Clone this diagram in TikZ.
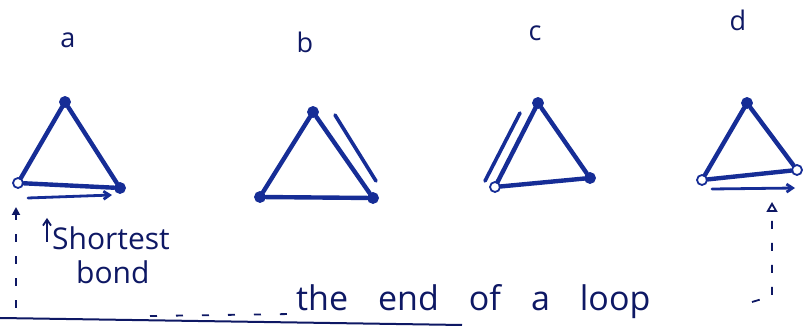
\documentclass[tikz,border=0pt]{standalone}
\usepackage{fontspec}
\setmainfont{Open Sans}
\usetikzlibrary{arrows.meta}

\definecolor{ink}{RGB}{22,45,150}
\definecolor{pen}{RGB}{14,24,100}

\begin{document}
\begin{tikzpicture}[x=1pt, y=-1pt,
    atom/.style  = {circle, draw=ink, fill=ink, line width=1.8pt,
                    inner sep=0pt, minimum size=10pt},
    hollow/.style = {atom, fill=white},
    bond/.style  = {draw=ink, line width=4.4pt, line cap=round},
    hint/.style  = {draw=ink, line width=3.6pt, line cap=round},
    move/.style  = {hint, line width=2.8pt, -{Straight Barb[length=6pt,width=8pt]}},
    guide/.style = {draw=pen, line width=1.8pt, dash pattern=on 8pt off 14pt},
    lbl/.style   = {text=pen, font=\fontsize{27}{30}\selectfont, inner sep=0pt},
    hand/.style  = {text=pen, font=\fontsize{30}{32}\selectfont, inner sep=0pt},
  ]
  \useasboundingbox (0,0) rectangle (812,328);

  % labels
  \node[lbl] (la) at (68,40) {a};
  \node[lbl] (lb) at (305,42) {b};
  \node[lbl] (lc) at (535,33) {c};
  \node[lbl] (ld) at (738,20) {d};

  % triangle a
  \node[atom]   (a1) at (65,102)  {};
  \node[hollow] (a2) at (18,183)  {};
  \node[atom]   (a3) at (120,188) {};
  \draw[bond] (a1) -- (a2) -- (a3) -- (a1);
  \coordinate (ma1) at (28,198);
  \coordinate (ma2) at (112,195);
  \draw[move] (ma1) -- (ma2);

  % triangle b
  \node[atom] (b1) at (313,112) {};
  \node[atom] (b2) at (260,197) {};
  \node[atom] (b3) at (373,198) {};
  \draw[bond] (b1) -- (b2) -- (b3) -- (b1);
  \coordinate (mb1) at (335,115);
  \coordinate (mb2) at (376,181);
  \draw[hint] (mb1) -- (mb2);

  % triangle c
  \node[atom]   (c1) at (538,103) {};
  \node[hollow] (c2) at (495,187) {};
  \node[atom]   (c3) at (590,178) {};
  \draw[bond] (c1) -- (c2) -- (c3) -- (c1);
  \coordinate (mc1) at (520,113);
  \coordinate (mc2) at (485,181);
  \draw[hint] (mc1) -- (mc2);

  % triangle d
  \node[atom]   (d1) at (747,103) {};
  \node[hollow] (d2) at (702,180) {};
  \node[hollow] (d3) at (797,170) {};
  \draw[bond] (d1) -- (d2) -- (d3) -- (d1);
  \coordinate (md1) at (712,189);
  \coordinate (md2) at (795,188);
  \draw[move] (md1) -- (md2);

  % shortest bond note
  \coordinate (sb1) at (47,242);
  \coordinate (sb2) at (47,218);
  \draw[pen, line width=1.8pt, -{Straight Barb[length=6pt,width=8pt]}] (sb1) -- (sb2);
  \node[hand, anchor=base west] (short) at (52,250) {Shortest};
  \node[hand, anchor=base west] (bond) at (76,284) {bond};

  % end of a loop
  \node[hand, anchor=base west, font=\fontsize{34}{36}\selectfont]
    (loop) at (296,311) {\spaceskip=30pt\relax the end of a loop};
  \coordinate (base1) at (0,318);
  \coordinate (base2) at (462,325);
  \draw[pen, line width=2pt] (base1) -- (base2);
  \coordinate (dl1) at (150,316);
  \coordinate (dl2) at (292,314);
  \draw[guide, dash pattern=on 7pt off 19pt] (dl1) -- (dl2);

  \coordinate (up1) at (16,308);
  \coordinate (up2) at (16,207);
  \draw[guide, -{Triangle[length=8pt,width=8pt]}] (up1) -- (up2);
  \coordinate (rt1) at (752,302);
  \coordinate (rt2) at (772,296);
  \coordinate (rt3) at (772,202);
  \draw[guide, -{Triangle[open,length=10pt,width=11pt,line width=1.8pt]}]
    (rt1) -- (rt2) -- (rt3);
\end{tikzpicture}
\end{document}
